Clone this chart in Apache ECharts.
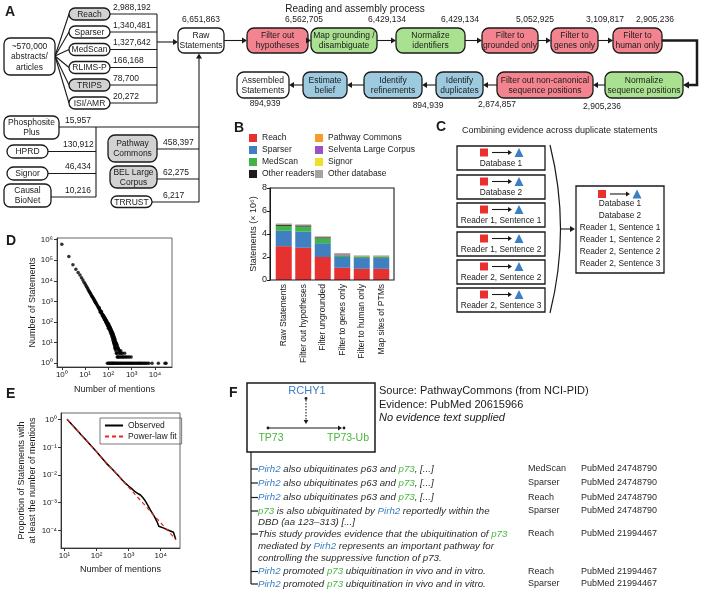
<!DOCTYPE html>
<html><head><meta charset="utf-8">
<script src="https://cdn.jsdelivr.net/npm/echarts@6/dist/echarts.min.js"></script>
<style>html,body{margin:0;padding:0;background:#fff}#c{width:708px;height:596px}</style>
</head><body><div id="c"></div>
<script>
// ================= DATA =================
// Panel A
const readers = ['Reach','Sparser','MedScan','RLIMS-P','TRIPS','ISI/AMR'];
const readerCounts = ['2,988,192','1,340,481','1,327,642','166,168','78,700','20,272'];
const readerShaded = [true,false,false,false,true,false];
const dbLeft = ['Phosphosite\nPlus','HPRD','Signor','Causal\nBioNet'];
const dbLeftCounts = ['15,957','130,912','46,434','10,216'];
const dbRight = ['Pathway\nCommons','BEL Large\nCorpus','TRRUST'];
const dbRightCounts = ['458,397','62,275','6,217'];
const dbRightShaded = [true,true,false];
const rawCount = '6,651,863';
const flowTop = ['Filter out\nhypotheses','Map grounding /\ndisambiguate','Normalize\nidentifiers','Filter to\ngrounded only','Filter to\ngenes only','Filter to\nhuman only'];
const flowTopCounts = ['6,562,705','6,429,134','6,429,134','5,052,925','3,109,817','2,905,236'];
const flowTopKind = ['filter','norm','norm','filter','filter','filter'];
const flowBottom = ['Normalize\nsequence positions','Filter out non-canonical\nsequence positions','Identify\nduplicates','Identify\nrefinements','Estimate\nbelief','Assembled\nStatements'];
const flowBottomCounts = ['2,905,236','2,874,857','894,939','','','894,939'];
const flowBottomKind = ['norm','filter','assemble','assemble','assemble','plain'];

// Panel B
const bCategories = ['Raw Statements','Filter out hypotheses','Filter ungrounded','Filter to genes only','Filter to human only','Map sites of PTMs'];
const reachVals    = [2.94, 2.80, 2.00, 1.06, 0.97, 0.97];
const sparserVals  = [1.34, 1.40, 1.20, 0.94, 0.94, 0.94];
const medscanVals  = [0.43, 0.45, 0.43, 0.14, 0.12, 0.12];
const otherReadVals= [0.10, 0.09, 0.08, 0.02, 0.01, 0.01];
const pcVals       = [0.02, 0.02, 0.02, 0.02, 0.01, 0.01];
const selventaVals = [0.02, 0.02, 0.02, 0.07, 0.03, 0.03];
const signorVals   = [0.01, 0.01, 0.01, 0.01, 0.01, 0.01];
const otherDbVals  = [0.05, 0.05, 0.05, 0.08, 0.05, 0.05];
const bYTicks = [0, 2, 4, 6, 8];

// Panel C
const cSources = ['Database 1','Database 2','Reader 1, Sentence 1','Reader 1, Sentence 2','Reader 2, Sentence 2','Reader 2, Sentence 3'];
const cMerged  = ['Database 1','Database 2','Reader 1, Sentence 1','Reader 1, Sentence 2','Reader 2, Sentence 2','Reader 2, Sentence 3'];

// Panel D : [number of mentions, number of statements]
const dPoints = [
[1,600000],[2,150000],[3,60000],[4,36000],[5,25000],[6,19000],[7,14000],[8,11000],[9,8600],[10,6900],
[11,5700],[12,4800],[13,4100],[14,3500],[15,3050],[16,2700],[17,2400],[18,2100],[19,1900],[20,1750],
[21,1600],[22,1450],[23,1330],[24,1220],[25,1120],[26,1040],[27,960],[28,890],[29,830],[30,780],
[32,690],[34,610],[36,540],[38,490],[40,440],[42,400],[44,365],[46,335],[48,305],[50,280],
[52,260],[54,240],[56,222],[58,208],[60,192],[63,175],[66,158],[69,145],[72,132],[75,122],
[78,112],[81,104],[84,96],[87,90],[90,84],[93,78],[96,73],[100,68],
[40,500],[45,300],[50,320],[55,200],[60,215],[62,170],[64,190],[66,140],[68,165],[70,128],[72,150],[74,118],[76,135],[78,98],[80,120],
[82,92],[84,110],[86,80],[88,100],[90,72],[92,92],[94,66],[96,85],[98,60],[100,80],[100,50],
[104,55],[104,75],[108,48],[108,66],[112,44],[112,60],[116,40],[116,55],[120,36],[120,52],[125,32],[125,47],
[130,28],[130,43],[135,25],[135,38],[140,22],[140,35],[145,19],[145,32],[150,17],[150,30],[155,15],[155,27],
[160,13],[160,25],[165,11],[165,22],[170,10],[170,20],[175,9],[175,18],[180,8],[180,16],[185,7],[185,15],
[190,6],[190,14],[195,5],[195,12],[200,5],[200,11],[210,4],[210,10],[220,3],[220,9],[230,3],[230,8],
[240,2],[240,7],[250,2],[250,6],[260,5],[270,2],[270,5],[280,4],[290,3],[300,2],[300,4],[320,3],
[340,2],[340,4],[360,3],[380,2],[400,3],[430,2],[460,2],[500,3],[550,2],[600,2],[700,2],[800,2],[950,2],
[90,1],[100,1],[110,1],[120,1],[130,1],[140,1],[150,1],[160,1],[175,1],[190,1],[210,1],[230,1],
[250,1],[280,1],[310,1],[340,1],[380,1],[420,1],[470,1],[520,1],[580,1],[650,1],[720,1],[800,1],
[900,1],[1000,1],[1120,1],[1250,1],[1400,1],[1600,1],[1800,1],[2000,1],[2250,1],[2500,1],[2800,1],
[3200,1],[3600,1],[4100,1],[4700,1],[5500,1],[7500,1],[14000,1],[27000,1],[30000,1]
];

// Panel E
const eObserved = [[12,1.05],[20,0.55],[32,0.30],[50,0.17],[100,0.069],[200,0.027],[316,0.0158],[500,0.0090],
[631,0.0066],[800,0.0050],[1000,0.0040],[1300,0.0031],[1585,0.0025],[2000,0.0021],[2344,0.0019],[2800,0.0015],
[3162,0.00126],[3981,0.0008],[4786,0.00054],[6310,0.00032],[7943,0.00019],[8710,0.00014],[10000,0.000135],
[12589,0.00012],[16000,0.000105],[19953,0.000095],[25000,0.000085],[28184,0.00008],[29512,0.000047]];
const eFit = [[12,1.05],[29512,0.000047]];

// Panel F
const fEvidence = [
  {lines:['{b|Pirh2}{t| also ubiquitinates p63 and }{g|p73}{t|, [...]}'], src:'MedScan', pm:'PubMed 24748790'},
  {lines:['{b|Pirh2}{t| also ubiquitinates p63 and }{g|p73}{t|, [...]}'], src:'Sparser', pm:'PubMed 24748790'},
  {lines:['{b|Pirh2}{t| also ubiquitinates p63 and }{g|p73}{t|, [...]}'], src:'Reach', pm:'PubMed 24748790'},
  {lines:['{g|p73}{t| is also ubiquitinated by }{b|Pirh2}{t| reportedly within the}','{t|DBD (aa 123\u2013313) [...]}'], src:'Sparser', pm:'PubMed 24748790'},
  {lines:['{t|This study provides evidence that the ubiquitination of }{g|p73}','{t|mediated by }{b|Pirh2}{t| represents an important pathway for}','{t|controlling the suppressive function of p73.}'], src:'Reach', pm:'PubMed 21994467'},
  {lines:['{b|Pirh2}{t| promoted }{g|p73}{t| ubiquitination in vivo and in vitro.}'], src:'Reach', pm:'PubMed 21994467'},
  {lines:['{b|Pirh2}{t| promoted }{g|p73}{t| ubiquitination in vivo and in vitro.}'], src:'Sparser', pm:'PubMed 21994467'}
];

// ================= DRAWING HELPERS =================
const FF = '"Liberation Sans", Arial, Helvetica, sans-serif';
const INK = '#1a1a1a';
const SHADE = '#d2d2d2';
const FILL = {filter:'#f3848f', norm:'#aae190', assemble:'#9ecae0', plain:'#ffffff'};
const BLUE = '#3b7fc4', GREEN = '#46b83b', RED = '#e8312f';
const G = [];
function T(x,y,text,o){o=o||{};const st={text:text,fill:o.c||INK,fontSize:o.fs||8.5,fontFamily:FF,fontWeight:o.fw||'normal',fontStyle:o.it?'italic':'normal',align:o.al||'center',textAlign:o.al||'center',verticalAlign:o.va||'middle',textVerticalAlign:o.va||'middle'};if(o.lh)st.lineHeight=o.lh;if(o.rich)st.rich=o.rich;G.push({type:'text',x:x,y:y,z:20,silent:true,style:st});}
function R(x,y,w,h,o){o=o||{};G.push({type:'rect',z:10,silent:true,shape:{x:x,y:y,width:w,height:h,r:o.r||0},style:{fill:o.fill===undefined?'#fff':o.fill,stroke:o.stroke||INK,lineWidth:o.lw||1.3}});}
function L(x1,y1,x2,y2,o){o=o||{};G.push({type:'line',z:o.z||5,silent:true,shape:{x1:x1,y1:y1,x2:x2,y2:y2},style:{stroke:o.c||INK,lineWidth:o.lw||1.1,lineDash:o.dash||null}});}
function PL(pts,o){o=o||{};G.push({type:'polyline',z:5,silent:true,shape:{points:pts},style:{stroke:o.c||INK,lineWidth:o.lw||1.1,fill:null}});}
function PG(pts,c,z){G.push({type:'polygon',z:z||15,silent:true,shape:{points:pts},style:{fill:c||INK}});}
function C(cx,cy,r,c){G.push({type:'circle',z:15,silent:true,shape:{cx:cx,cy:cy,r:r},style:{fill:c||INK}});}
function headR(x,y,s){s=s||5;PG([[x,y],[x-s,y-s*0.6],[x-s,y+s*0.6]]);}
function headL(x,y,s){s=s||5;PG([[x,y],[x+s,y-s*0.6],[x+s,y+s*0.6]]);}
function headU(x,y,s){s=s||5;PG([[x,y],[x-s*0.6,y+s],[x+s*0.6,y+s]]);}
function headD(x,y,s){s=s||5;PG([[x,y],[x-s*0.6,y-s],[x+s*0.6,y-s]]);}
function panelLetter(x,y,t){T(x,y,t,{fs:14,fw:'bold',al:'left'});}

// ---------- Panel A ----------
panelLetter(5,12,'A');
R(4,38,51,37,{r:6}); T(29.5,57,'~570,000\nabstracts/\narticles',{lh:10.5});
const readerY=[14,32,49.5,67.5,85,103];
readers.forEach((n,i)=>{const cy=readerY[i];
  L(55,56,69,cy);
  R(69,cy-6,41,12,{r:6,fill:readerShaded[i]?SHADE:'#fff'});
  T(89.5,cy+0.5,n);
  L(110,cy,157,cy);
  T(113,cy-2,readerCounts[i],{al:'left',va:'bottom'});
});
L(157,14,157,103);
L(157,42,174,42); headR(178,42);
R(178,28,46,25,{r:6}); T(201,41,'Raw\nStatements',{lh:10});
T(201,24.5,rawCount,{va:'bottom'});

const dbLeftBox=[[4,116,55,23,6],[7,145,41,13,6.5],[7,167,41,13,6.5],[4,184,47,23,6]];
const dbLeftLineY=[127,151.5,173.5,197];
const dbLeftNumX=[65,63,65,65];
dbLeft.forEach((n,i)=>{const b=dbLeftBox[i];const ly=dbLeftLineY[i];
  L(b[0]+b[2],ly,i===0?199:96,ly);
  R(b[0],b[1],b[2],b[3],{r:b[4]}); T(b[0]+b[2]/2,b[1]+b[3]/2+0.5,n,{lh:10});
  T(dbLeftNumX[i],ly-2,dbLeftCounts[i],{al:'left',va:'bottom'});
});
L(96,127,96,197);
const dbRightBox=[[108,135,49,27,7],[110,166,47,22,7],[111,196,41,11.5,5.75]];
const dbRightLineY=[149,179,202];
dbRight.forEach((n,i)=>{const b=dbRightBox[i];const ly=dbRightLineY[i];
  L(b[0]+b[2],ly,199,ly);
  R(b[0],b[1],b[2],b[3],{r:b[4],fill:dbRightShaded[i]?SHADE:'#fff'}); T(b[0]+b[2]/2,b[1]+b[3]/2+0.5,n,{lh:10});
  T(163,ly-2,dbRightCounts[i],{al:'left',va:'bottom'});
});
L(199,202,199,58); headU(199,53.5);

T(355,9,'Reading and assembly process',{fs:10});
const topX=[[247,308],[311,377],[396,465],[482,538],[551,598],[613,662]];
const topNumX=[304,387,460,535,605,655];
let prevRight=224;
flowTop.forEach((n,i)=>{const x0=topX[i][0],x1=topX[i][1];
  if(x0-prevRight>5) L(prevRight,40.5,x0-4,40.5);
  headR(x0,40.5);
  R(x0,28,x1-x0,25,{r:7,fill:FILL[flowTopKind[i]]});
  T((x0+x1)/2,41,n,{lh:10});
  T(topNumX[i],24.5,flowTopCounts[i],{va:'bottom'});
  prevRight=x1;
});
PL([[662,40.5],[697,40.5],[697,85],[687,85]],{lw:2.5}); headL(683,85,6);
const botX=[[605,683],[497,593],[436,483],[364,422],[303,347],[237,289]];
const botNumX=[602,497,428,0,0,265];
const botNumY=[106.5,105,106,0,0,103.5];
flowBottom.forEach((n,i)=>{const x0=botX[i][0],x1=botX[i][1];
  R(x0,72,x1-x0,26,{r:7,fill:FILL[flowBottomKind[i]]});
  T((x0+x1)/2,85.5,n,{lh:10});
  if(flowBottomCounts[i]) T(botNumX[i],botNumY[i],flowBottomCounts[i]);
  if(i>0){L(botX[i-1][0],85,x1+4,85); headL(x1,85);}
});

// ---------- Panel B ----------
panelLetter(234,128,'B');
R(270,188,124,92,{fill:'transparent',lw:1.1,r:0});

// ---------- Panel C ----------
panelLetter(436,127,'C');
T(462,131,'Combining evidence across duplicate statements',{fs:9,al:'left'});
function miniStmt(x,y){
  G.push({type:'rect',z:15,silent:true,shape:{x:x,y:y,width:8,height:8},style:{fill:RED}});
  L(x+12,y+4,x+29,y+4,{z:15}); headR(x+32,y+4,4);
  PG([[x+39,y-0.5],[x+34.5,y+8.5],[x+43.5,y+8.5]],BLUE);
}
const cTops=[146,175,203,232,260,288];
cSources.forEach((s,i)=>{const t=cTops[i];
  R(457,t,88,24,{lw:1.3}); miniStmt(480,t+2.5); T(501,t+17.5,s,{fs:8.3});
});
G.push({type:'bezierCurve',z:5,silent:true,shape:{x1:550,y1:145,x2:550,y2:313,cpx1:571,cpy1:229},style:{stroke:INK,lineWidth:1.2,fill:null}});
L(561,229,571,229); headR(575,229,5);
R(576,186,88,87,{lw:1.3}); miniStmt(598,190);
cMerged.forEach((s,i)=>{T(620,204+12*i,s,{fs:8.3});});

// ---------- Panel D / E letters ----------
panelLetter(6,241,'D');
panelLetter(6,394,'E');

// ---------- Panel F ----------
panelLetter(229,393,'F');
R(247,383,128,69,{lw:1.5,r:0,fill:'#fff'});
T(307,391,'RCHY1',{fs:11,c:BLUE});
C(306,398.5,1.4); L(306,400,306,420,{dash:[1.5,1.5],z:15}); headD(306,424,4);
C(268,428,1.4); L(268,428,338,428,{z:15}); headR(342,428,4); C(344,428,1.4);
T(271,438,'TP73',{fs:10.5,c:GREEN}); T(348,438,'TP73-Ub',{fs:10.5,c:GREEN});
T(379,391,'Source: PathwayCommons (from NCI-PID)',{fs:11,al:'left'});
T(379,405,'Evidence: PubMed 20615966',{fs:11,al:'left'});
T(379,418,'No evidence text supplied',{fs:11,al:'left',it:true});
const richF={t:{fontStyle:'italic',fontSize:9.7,fontFamily:FF,fill:'#2a2a2a'},b:{fontStyle:'italic',fontSize:9.7,fontFamily:FF,fill:BLUE},g:{fontStyle:'italic',fontSize:9.7,fontFamily:FF,fill:GREEN}};
const fRowY=[[469],[483],[497.5],[511,522],[534,546.5,558],[571.5],[584]];
L(251,452,251,584,{lw:1.2});
fEvidence.forEach((ev,i)=>{const ys=fRowY[i];
  L(251,ys[0],258,ys[0],{lw:1.2});
  ev.lines.forEach((ln,j)=>{T(258,ys[j],ln,{al:'left',rich:richF,fs:9.7,it:true});});
  T(528,ys[0],ev.src,{fs:9,al:'left',c:'#2a2a2a'});
  T(581,ys[0],ev.pm,{fs:9,al:'left',c:'#2a2a2a'});
});

// ================= CHART =================
const SUP={'0':'\u2070','1':'\u00b9','2':'\u00b2','3':'\u00b3','4':'\u2074','5':'\u2075','6':'\u2076','7':'\u2077','8':'\u2078','9':'\u2079','-':'\u207b'};
function pow10(v){const e=Math.round(Math.log10(v));return '10'+String(e).split('').map(c=>SUP[c]).join('');}
const logAxisCommon = {
  type:'log', splitLine:{show:false}, minorTick:{show:false},
  axisLine:{show:true,lineStyle:{color:'#333',width:1}},
  axisTick:{show:true,length:3,lineStyle:{color:'#333'}},
  axisLabel:{formatter:pow10,fontSize:8,color:INK,margin:4,showMinLabel:false,showMaxLabel:false,fontFamily:FF},
  nameLocation:'middle', nameTextStyle:{fontSize:9,color:INK,fontFamily:FF}
};
function barSeries(name,data,color){return {name:name,type:'bar',xAxisIndex:0,yAxisIndex:0,stack:'s',barWidth:16,data:data,itemStyle:{color:color},silent:true};}
const legendCommon={orient:'vertical',itemWidth:8,itemHeight:8,itemGap:3,icon:'rect',padding:0,selectedMode:false,textStyle:{fontSize:8.5,color:INK,fontFamily:FF}};

const option = {
  animation:false,
  textStyle:{fontFamily:FF},
  grid:[
    {left:274,top:188,width:117,height:92},
    {left:57,top:238,width:115,height:129,show:true,borderColor:'#666',borderWidth:1},
    {left:61,top:413,width:119,height:135,show:true,borderColor:'#666',borderWidth:1}
  ],
  xAxis:[
    {gridIndex:0,type:'category',data:bCategories,axisLine:{show:false},axisTick:{show:false},
     axisLabel:{rotate:90,fontSize:8.5,color:INK,margin:4,interval:0,fontFamily:FF}},
    Object.assign({},logAxisCommon,{gridIndex:1,min:0.62,max:54000,name:'Number of mentions',nameGap:18}),
    Object.assign({},logAxisCommon,{gridIndex:2,min:7.8,max:40000,name:'Number of mentions',nameGap:17})
  ],
  yAxis:[
    {gridIndex:0,type:'value',min:bYTicks[0],max:bYTicks[bYTicks.length-1],interval:2,offset:4,
     axisLine:{show:true,lineStyle:{color:INK}},axisTick:{show:true,length:3,lineStyle:{color:INK}},
     splitLine:{show:false},axisLabel:{fontSize:9,color:INK,margin:3,fontFamily:FF},
     name:'Statements (\u00d7 10\u2076)',nameLocation:'middle',nameRotate:90,nameGap:11,
     nameTextStyle:{fontSize:9,color:INK,fontFamily:FF}},
    Object.assign({},logAxisCommon,{gridIndex:1,min:0.65,max:1.2e6,name:'Number of Statements',nameGap:19,nameRotate:90}),
    Object.assign({},logAxisCommon,{gridIndex:2,min:2.3e-5,max:1.75,name:'Proportion of Statements with\nat least the number of mentions',nameGap:22,nameRotate:90,
      nameTextStyle:{fontSize:9,color:INK,lineHeight:11,fontFamily:FF}})
  ],
  legend:[
    Object.assign({},legendCommon,{data:['Reach','Sparser','MedScan','Other readers'],left:249,top:133.5}),
    Object.assign({},legendCommon,{data:['Pathway Commons','Selventa Large Corpus','Signor','Other database'],left:315,top:133.5}),
    {data:['Observed','Power-law fit'],orient:'vertical',left:100,top:418,itemWidth:18,itemHeight:8,itemGap:2,
     padding:[3,5,3,4],borderColor:'#555',borderWidth:0.8,selectedMode:false,
     itemStyle:{opacity:0,borderWidth:0},
     textStyle:{fontSize:8.5,color:INK,fontFamily:FF}}
  ],
  series:[
    barSeries('Reach',reachVals,'#e5312f'),
    barSeries('Sparser',sparserVals,'#4080c0'),
    barSeries('MedScan',medscanVals,'#3fb549'),
    barSeries('Other readers',otherReadVals,'#1c1c1c'),
    barSeries('Pathway Commons',pcVals,'#f59b2d'),
    barSeries('Selventa Large Corpus',selventaVals,'#9c50c2'),
    barSeries('Signor',signorVals,'#ece02a'),
    barSeries('Other database',otherDbVals,'#a3a3a3'),
    {name:'mentions',type:'scatter',xAxisIndex:1,yAxisIndex:1,data:dPoints,symbolSize:3.5,itemStyle:{color:'#000'},silent:true},
    {name:'Observed',type:'line',xAxisIndex:2,yAxisIndex:2,data:eObserved,symbol:'none',showSymbol:false,lineStyle:{color:'#000',width:1.5},itemStyle:{color:'#000'},silent:true},
    {name:'Power-law fit',type:'line',xAxisIndex:2,yAxisIndex:2,data:eFit,symbol:'none',showSymbol:false,lineStyle:{color:'#e8291c',width:1.2,type:[4,3]},itemStyle:{color:'#e8291c'},silent:true}
  ],
  graphic:{elements:G}
};
const chart = echarts.init(document.getElementById('c'),null,{renderer:'canvas'});
chart.setOption(option);
</script></body></html>
